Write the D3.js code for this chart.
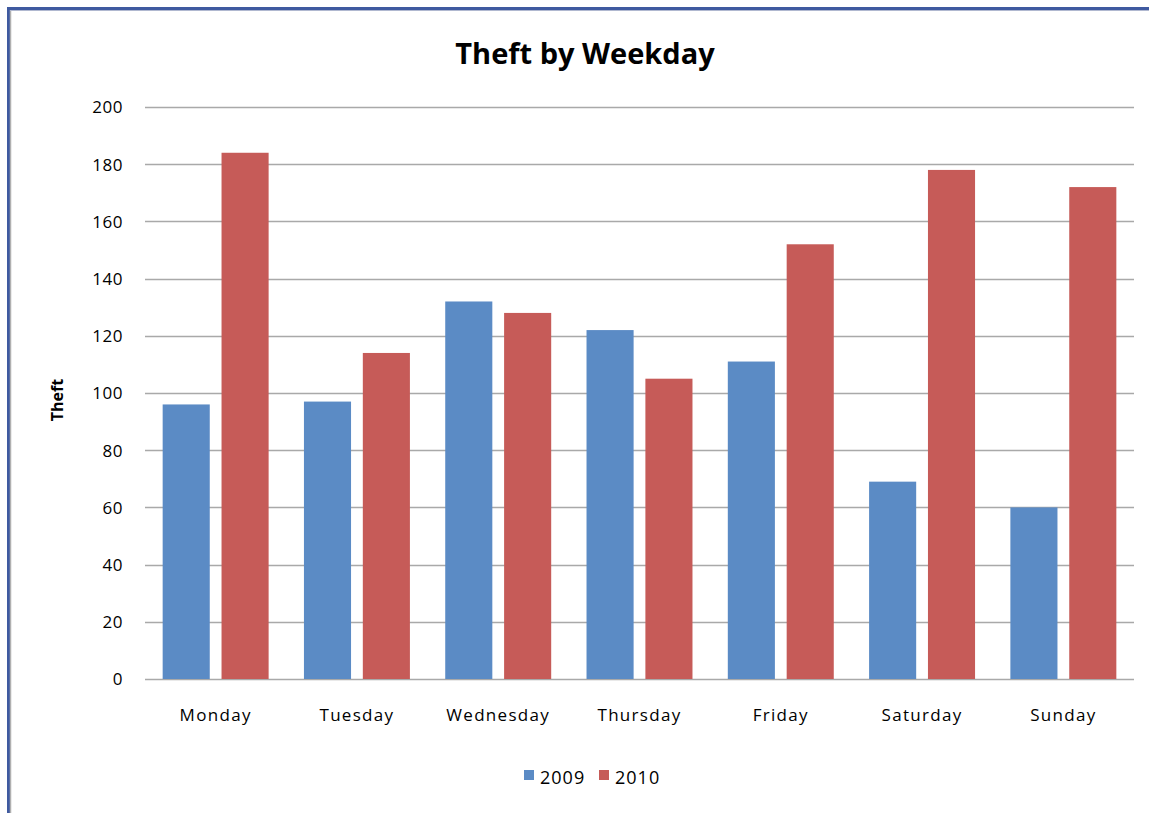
<!DOCTYPE html>
<html><head><meta charset="utf-8">
<script src="https://cdn.jsdelivr.net/npm/d3@7"></script>
<style>body{margin:0;background:#fff;}svg{display:block;}</style>
</head><body>
<svg id="c" width="1149" height="813"></svg>
<script>
const categories = ["Monday","Tuesday","Wednesday","Thursday","Friday","Saturday","Sunday"];
const seriesNames = ["2009","2010"];
const values2009 = [96,97,132,122,111,69,60];
const values2010 = [184,114,128,105,152,178,172];
const yTicks = [0,20,40,60,80,100,120,140,160,180,200];
const colors = ["#5b8bc5","#c65b58"];

(function(){
const svg = d3.select("#c");
const font = "'Open Sans', 'Noto Sans', sans-serif";
// frame
svg.append("rect").attr("x",8.5).attr("y",8.5).attr("width",1160).attr("height",820)
  .attr("fill","none").attr("stroke","#3f5aa0").attr("stroke-width",3);
svg.append("line").attr("x1",10.5).attr("x2",10.5).attr("y1",10).attr("y2",813).attr("stroke","#b0b0b0").attr("stroke-width",1.5);
svg.append("line").attr("x1",10).attr("x2",1149).attr("y1",10.5).attr("y2",10.5).attr("stroke","#b0b8d0").attr("stroke-width",1);

const pLeft=145, pRight=1134, pTop=107, pBottom=679;
const x = d3.scaleBand().domain(categories).range([pLeft,pRight]).paddingInner(0.25).paddingOuter(0.125);
const xs = d3.scaleBand().domain(seriesNames).range([0,x.bandwidth()]).paddingInner(0.2);
const y = d3.scaleLinear().domain([0,200]).range([pBottom,pTop]);

// gridlines
const g = svg.append("g");
g.selectAll("line.grid").data(yTicks).join("line")
  .attr("x1",pLeft).attr("x2",pRight)
  .attr("y1",d=>Math.round(y(d))+0.5).attr("y2",d=>Math.round(y(d))+0.5)
  .attr("stroke","#a9a9a9").attr("stroke-width",1.3);

// y axis labels
const yAxis = d3.axisLeft(y).tickValues(yTicks).tickSize(0).tickPadding(0);
const ya = svg.append("g").attr("transform",`translate(${pLeft-22},0)`).call(yAxis);
ya.select(".domain").remove();
ya.selectAll("text").attr("font-family",font).attr("font-size",17).attr("letter-spacing","0.5px").attr("fill","#000").attr("dy","0.35em");

// bars
const data = categories.map((c,i)=>({c, vals:[values2009[i],values2010[i]]}));
const groups = svg.append("g").selectAll("g").data(data).join("g")
  .attr("transform",d=>`translate(${x(d.c)},0)`);
groups.selectAll("rect").data(d=>d.vals.map((v,j)=>({v,s:seriesNames[j],j}))).join("rect")
  .attr("x",d=>xs(d.s)).attr("width",xs.bandwidth())
  .attr("y",d=>y(d.v)).attr("height",d=>y(0)-y(d.v))
  .attr("fill",d=>colors[d.j]);

// x axis
const xAxis = d3.axisBottom(x).tickSize(0).tickPadding(0);
const xa = svg.append("g").attr("transform",`translate(0,${pBottom+36})`).call(xAxis);
xa.select(".domain").remove();
xa.selectAll("text").attr("font-family",font).attr("font-size",17).attr("letter-spacing","1.3px").attr("fill","#000").attr("dy","0.35em");

// title
svg.append("text").attr("x",585).attr("y",64).attr("text-anchor","middle")
  .attr("font-family",font).attr("font-weight","bold").attr("font-size",29).attr("fill","#000").text("Theft by Weekday");
// y title
svg.append("text").attr("transform","translate(63,400) rotate(-90)").attr("text-anchor","middle")
  .attr("font-family",font).attr("font-weight","bold").attr("font-size",16).attr("fill","#000").text("Theft");

// legend
const legX = [524,599];
const lg = svg.append("g").selectAll("g").data(seriesNames).join("g")
  .attr("transform",(d,i)=>`translate(${legX[i]},0)`);
lg.append("rect").attr("x",0).attr("y",770).attr("width",10).attr("height",10).attr("fill",(d,i)=>colors[i]);
lg.append("text").attr("x",16).attr("y",784).attr("font-family",font).attr("font-size",18).attr("letter-spacing","1px").attr("fill","#000").text(d=>d);
})();
</script>
</body></html>
